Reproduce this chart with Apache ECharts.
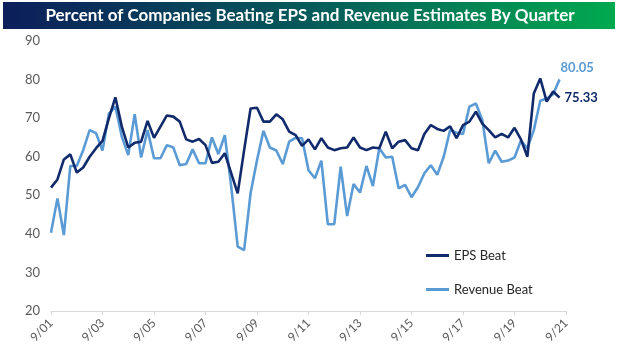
<!DOCTYPE html>
<html>
<head>
<meta charset="utf-8">
<title>Percent of Companies Beating EPS and Revenue Estimates By Quarter</title>
<script src="https://cdn.jsdelivr.net/npm/echarts@6/dist/echarts.min.js"></script>
<style>
    html, body { margin: 0; padding: 0; background: #fff; }
    #chart { width: 617px; height: 354px; }
</style>
</head>
<body>
<div id="chart"></div>
<script>
// quarterly beat rates, 9/01 through 6/21
const epsBeat = [
    52.0, 54.1, 59.3, 60.6, 55.9, 57.2, 60.0, 62.2, 64.1, 70.0,
    75.4, 67.8, 62.4, 63.6, 63.9, 69.3, 64.9, 67.8, 70.7, 70.4,
    69.1, 64.5, 63.9, 64.6, 63.0, 58.4, 58.7, 60.9, 55.7, 50.5,
    61.7, 72.5, 72.7, 69.1, 69.1, 71.0, 69.7, 66.5, 65.6, 62.8,
    64.5, 61.9, 64.8, 62.4, 61.7, 62.2, 62.4, 65.0, 62.4, 61.7,
    62.4, 62.2, 66.5, 62.2, 63.9, 64.3, 62.2, 61.7, 65.9, 68.2,
    67.2, 66.7, 67.9, 64.8, 68.2, 69.1, 71.7, 68.6, 66.9, 65.0,
    65.9, 65.0, 67.5, 64.5, 60.0, 76.4, 80.3, 74.3, 76.9, 75.33,
];
const revenueBeat = [
    40.3, 49.2, 39.7, 57.6, 57.6, 61.7, 66.9, 66.1, 61.6, 71.2,
    73.0, 65.2, 60.4, 71.0, 59.8, 66.9, 59.6, 59.6, 63.0, 62.4,
    57.8, 58.1, 61.9, 58.3, 58.3, 65.0, 60.7, 65.6, 52.2, 36.7,
    35.8, 50.5, 59.1, 66.7, 62.4, 61.6, 58.1, 63.9, 64.9, 64.8,
    56.5, 54.4, 59.0, 42.5, 42.5, 57.4, 44.6, 52.9, 50.7, 57.6,
    52.4, 62.2, 59.8, 60.0, 51.8, 52.7, 49.5, 52.1, 55.7, 57.8,
    55.3, 60.0, 66.9, 66.2, 65.9, 73.0, 73.8, 69.5, 58.3, 61.6,
    58.7, 59.0, 59.8, 64.2, 62.2, 66.9, 74.5, 75.1, 76.2, 80.05,
];
const yTicks = [20, 30, 40, 50, 60, 70, 80, 90];

// quarter labels 9/01 ... 9/21 (axis runs one quarter past the data)
const quarterMonths = [9, 12, 3, 6];
const quarters = [];
for (let i = 0; i <= 80; i++) {
    const yr = 1 + Math.floor((i + 2) / 4);
    quarters.push(quarterMonths[i % 4] + '/' + (yr < 10 ? '0' + yr : yr));
}

const EPS_COLOR = '#112a6b';
const REV_COLOR = '#5b9bd5';
const FONT = 'Lato, "Open Sans", sans-serif';

const myChart = echarts.init(document.getElementById('chart'));

const option = {
    animation: false,
    textStyle: { fontFamily: FONT },
    graphic: [
        {
            type: 'rect',
            shape: { x: 3, y: 2, width: 612, height: 27 },
            style: {
                fill: new echarts.graphic.LinearGradient(0, 0, 1, 0, [
                    { offset: 0, color: '#0c1e5b' },
                    { offset: 0.5, color: '#065a5a' },
                    { offset: 1, color: '#01a94f' },
                ]),
            },
            z: 0,
        },
        {
            type: 'text',
            x: 310,
            y: 16,
            style: {
                text: 'Percent of Companies Beating EPS and Revenue Estimates By Quarter',
                fill: '#ffffff',
                font: 'bold 17px ' + FONT,
                align: 'center',
                verticalAlign: 'middle',
            },
            z: 1,
        },
    ],
    grid: {
        left: 51,
        right: 51,
        top: 41,
        bottom: 43,
    },
    legend: {
        orient: 'vertical',
        left: 421,
        top: 244,
        itemGap: 21,
        itemWidth: 23,
        itemHeight: 3,
        icon: 'rect',
        textStyle: { color: '#262626', fontSize: 13, fontFamily: FONT },
        data: ['EPS Beat', 'Revenue Beat'],
    },
    xAxis: {
        type: 'category',
        boundaryGap: false,
        data: quarters,
        axisLine: { lineStyle: { color: '#d9d9d9', width: 1 } },
        axisTick: {
            show: true,
            interval: 7,
            length: 4,
            lineStyle: { color: '#d9d9d9' },
        },
        axisLabel: {
            interval: 7,
            rotate: 45,
            color: '#595959',
            fontSize: 12,
            margin: 10,
        },
        splitLine: { show: false },
    },
    yAxis: {
        type: 'value',
        min: yTicks[0],
        max: yTicks[yTicks.length - 1],
        interval: 10,
        axisLine: { show: false },
        axisTick: { show: false },
        splitLine: { show: false },
        axisLabel: {
            color: '#595959',
            fontSize: 13,
            margin: 11,
        },
    },
    series: [
        {
            name: 'Revenue Beat',
            type: 'line',
            data: revenueBeat,
            symbol: 'none',
            color: REV_COLOR,
            lineStyle: { width: 2.6, color: REV_COLOR },
            endLabel: {
                show: true,
                formatter: (p) => p.value.toFixed(2),
                color: REV_COLOR,
                fontWeight: 'bold',
                fontSize: 13,
                offset: [-7, -12],
            },
            z: 2,
        },
        {
            name: 'EPS Beat',
            type: 'line',
            data: epsBeat,
            symbol: 'none',
            color: EPS_COLOR,
            lineStyle: { width: 2.6, color: EPS_COLOR },
            endLabel: {
                show: true,
                formatter: (p) => p.value.toFixed(2),
                color: EPS_COLOR,
                fontWeight: 'bold',
                fontSize: 13,
                distance: 5,
            },
            z: 3,
        },
    ],
};

myChart.setOption(option);
window.addEventListener('resize', () => myChart.resize());
</script>
</body>
</html>
